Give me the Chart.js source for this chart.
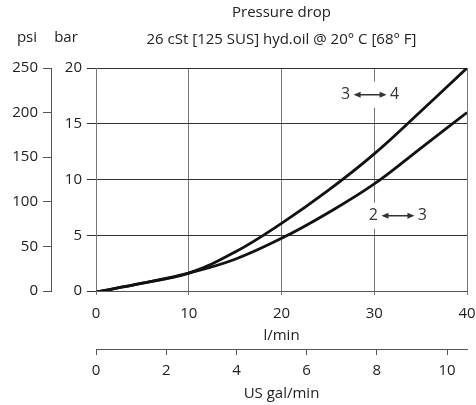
<!DOCTYPE html>
<html>
<head>
<meta charset="utf-8">
<script src="https://cdn.jsdelivr.net/npm/chart.js@4.4.0/dist/chart.umd.min.js"></script>
<style>
  html, body { margin: 0; padding: 0; background: #fff; }
  #contenedor { width: 476px; height: 405px; }
</style>
</head>
<body>
<div id="contenedor"><canvas id="grafica-presion"></canvas></div>
<script>
// Datos (caudal en l/min, caída de presión en bar)
const caudal34 = [0, 5, 10, 15, 20, 25, 30, 35, 40];
const presion34 = [-0.1, 0.7, 1.6, 3.5, 6.07, 9.0, 12.3, 16.1, 20];
const caudal23 = [0, 5, 10, 15, 20, 25, 30, 35, 40];
const presion23 = [-0.1, 0.7, 1.6, 2.85, 4.72, 7.0, 9.6, 12.8, 16];

// Ejes
const ticksLmin = [0, 10, 20, 30, 40];
const ticksGal = [0, 2, 4, 6, 8, 10];
const ticksBar = [0, 5, 10, 15, 20];
const ticksPsi = [0, 50, 100, 150, 200, 250];
const litrosPorGalon = 3.785;

// Etiquetas de las curvas
const etiquetas = [
    { izq: '3', der: '4', x: 29.5, y: 17.6 },
    { izq: '2', der: '3', x: 32.5, y: 6.75 }
];

const fuente = "'Open Sans', sans-serif";
Chart.defaults.font.family = fuente;
Chart.defaults.font.size = 15;
Chart.defaults.color = '#222';

function aPuntos(xs, ys) {
    return xs.map((x, i) => ({ x: x, y: ys[i] }));
}

// Plugin para textos extra y etiquetas de curvas
const textosExtra = {
    id: 'textosExtra',
    beforeDatasetsDraw(chart) {
        const ctx = chart.ctx;
        const sx = chart.scales.x;
        const sy = chart.scales.y;
        ctx.save();
        // huecos blancos en la rejilla detrás de las etiquetas
        ctx.fillStyle = '#fff';
        etiquetas.forEach(e => {
            const cx = sx.getPixelForValue(e.x);
            const cy = sy.getPixelForValue(e.y);
            ctx.fillRect(cx - 30, cy - 13, 60, 26);
        });
        ctx.restore();
    },
    afterDraw(chart) {
        const ctx = chart.ctx;
        const sx = chart.scales.x;
        const sy = chart.scales.y;
        ctx.save();
        ctx.font = '15px ' + fuente;
        ctx.fillStyle = '#222';
        ctx.textAlign = 'center';
        ctx.textBaseline = 'alphabetic';
        ctx.fillText('psi', 27, 42);
        ctx.fillText('bar', 66, 42);

        ctx.font = '16px ' + fuente;
        ctx.fillStyle = '#333';
        ctx.strokeStyle = '#333';
        ctx.lineWidth = 1.5;
        etiquetas.forEach(e => {
            const cx = sx.getPixelForValue(e.x);
            const cy = sy.getPixelForValue(e.y);
            ctx.textBaseline = 'middle';
            ctx.fillText(e.izq, cx - 24, cy);
            ctx.fillText(e.der, cx + 25, cy);
            const a = cx - 16, b = cx + 17;
            ctx.beginPath();
            ctx.moveTo(a + 4, cy);
            ctx.lineTo(b - 4, cy);
            ctx.stroke();
            ctx.beginPath();
            ctx.moveTo(a, cy); ctx.lineTo(a + 7, cy - 3); ctx.lineTo(a + 7, cy + 3); ctx.closePath();
            ctx.moveTo(b, cy); ctx.lineTo(b - 7, cy - 3); ctx.lineTo(b - 7, cy + 3); ctx.closePath();
            ctx.fill();
        });
        ctx.restore();
    }
};

const ctxPresion = document.getElementById('grafica-presion').getContext('2d');

let graficaPresion = new Chart(ctxPresion, {
    type: 'line',
    data: {
        datasets: [
            {
                label: '3-4',
                data: aPuntos(caudal34, presion34),
                borderColor: '#111',
                borderWidth: 2.8,
                pointRadius: 0,
                tension: 0.4,
                fill: false
            },
            {
                label: '2-3',
                data: aPuntos(caudal23, presion23),
                borderColor: '#111',
                borderWidth: 2.8,
                pointRadius: 0,
                tension: 0.4,
                fill: false
            }
        ]
    },
    options: {
        responsive: true,
        maintainAspectRatio: false,
        animation: false,
        layout: { padding: { left: 0, right: 0, top: 0, bottom: 0 } },
        plugins: {
            legend: { display: false },
            tooltip: { enabled: false },
            title: {
                display: true,
                text: 'Pressure drop',
                fullSize: false,
                font: { size: 15, weight: 'normal' },
                color: '#222',
                padding: { top: 4, bottom: 9 }
            },
            subtitle: {
                display: true,
                text: '26 cSt [125 SUS] hyd.oil @ 20° C [68° F]',
                fullSize: false,
                font: { size: 15 },
                color: '#222',
                padding: { top: 0, bottom: 19 }
            }
        },
        scales: {
            x: {
                type: 'linear',
                position: 'bottom',
                weight: 0,
                min: 0,
                max: 40,
                afterBuildTicks: s => { s.ticks = ticksLmin.map(v => ({ value: v })); },
                afterFit: s => { s.height = 58; s.paddingLeft = 0; s.paddingRight = 9; },
                ticks: { padding: 10, color: '#222' },
                grid: { color: '#777', lineWidth: 1, tickLength: 4 },
                border: { color: '#555', width: 1 },
                title: { display: true, text: 'l/min', color: '#222', padding: { top: 0, bottom: 4 } }
            },
            xGal: {
                type: 'linear',
                position: 'bottom',
                weight: 1,
                min: 0,
                max: 40 / litrosPorGalon,
                afterBuildTicks: s => { s.ticks = ticksGal.map(v => ({ value: v })); },
                afterFit: s => { s.height = 56; s.paddingLeft = 0; s.paddingRight = 0; },
                ticks: { padding: 7, color: '#222' },
                grid: { drawOnChartArea: false, color: '#555', tickLength: 6 },
                border: { color: '#555', width: 1 },
                title: { display: true, text: 'US gal/min', color: '#222', padding: { top: 0, bottom: 2 } }
            },
            y: {
                type: 'linear',
                position: 'left',
                weight: 0,
                min: 0,
                max: 20,
                afterBuildTicks: s => { s.ticks = ticksBar.map(v => ({ value: v })); },
                afterFit: s => { s.width = 45; },
                ticks: { padding: 5, color: '#222' },
                grid: { color: '#333', lineWidth: 1, tickLength: 9 },
                border: { color: '#777', width: 1 }
            },
            yPsi: {
                type: 'linear',
                position: 'left',
                weight: 1,
                min: 0,
                max: 250,
                afterBuildTicks: s => { s.ticks = ticksPsi.map(v => ({ value: v })); },
                afterFit: s => { s.width = 51; },
                ticks: { padding: 5, color: '#222' },
                grid: { drawOnChartArea: false, color: '#555', tickLength: 8 },
                border: { color: '#555', width: 1 }
            }
        }
    },
    plugins: [textosExtra]
});
</script>
</body>
</html>
